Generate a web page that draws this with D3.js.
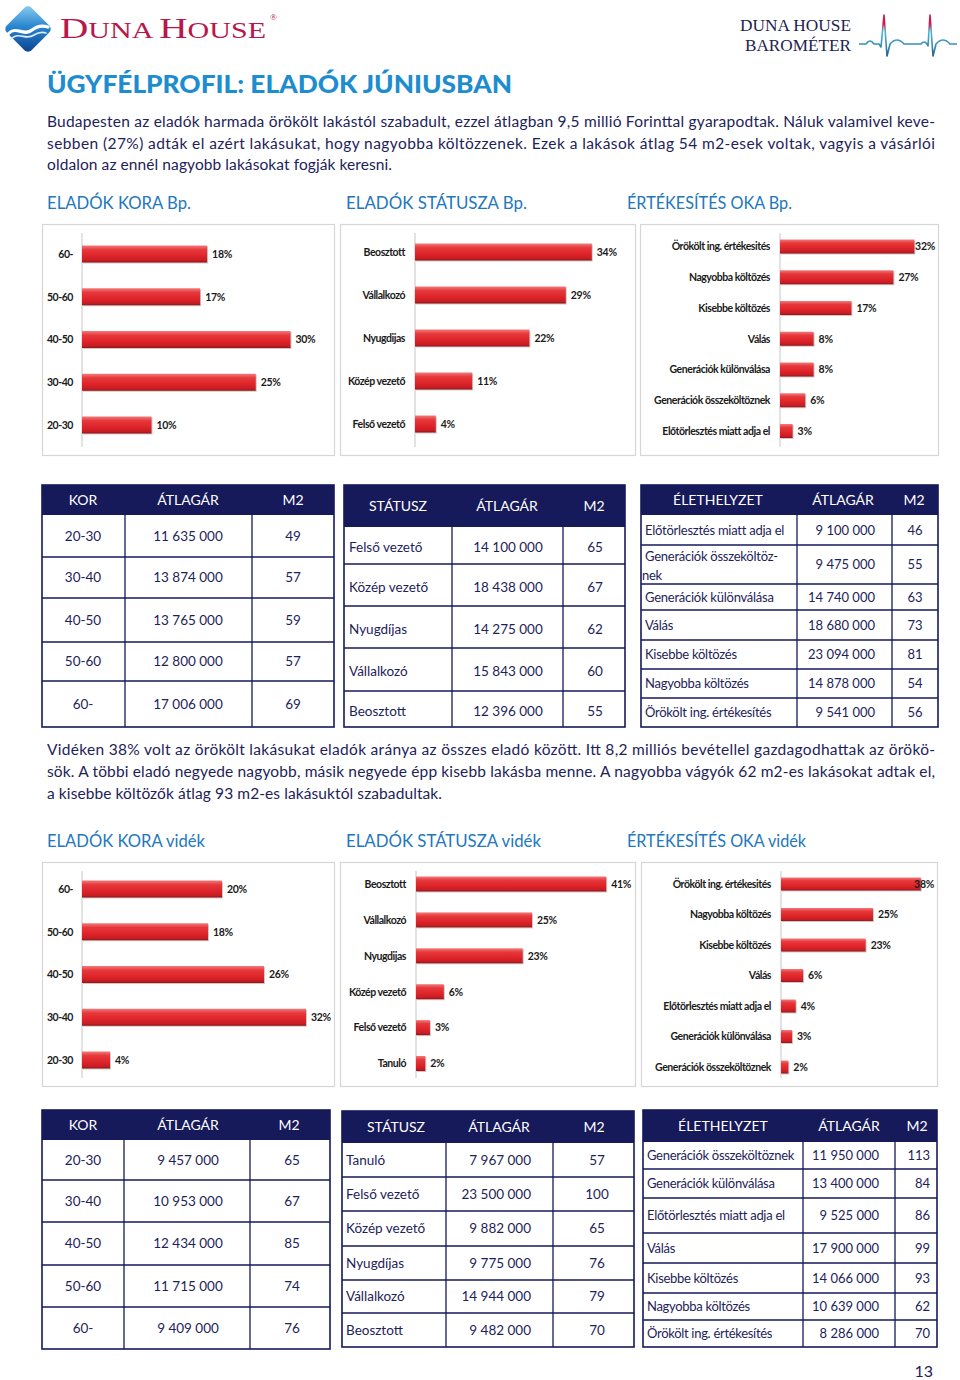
<!DOCTYPE html>
<html><head><meta charset="utf-8">
<script src="https://cdn.jsdelivr.net/npm/d3@7"></script>
<style>body{margin:0;background:#fff}svg{display:block}</style>
</head><body>
<svg id="page" width="960" height="1380"></svg>
<script>
// ---------- DATA ----------
const ageCats = ["60-", "50-60", "40-50", "30-40", "20-30"];
const ageBp = [18, 17, 30, 25, 10];
const ageVid = [20, 18, 26, 32, 4];

const statusCatsBp = ["Beosztott", "Vállalkozó", "Nyugdijas", "Közép vezető", "Felső vezető"];
const statusBp = [34, 29, 22, 11, 4];
const statusCatsVid = ["Beosztott", "Vállalkozó", "Nyugdijas", "Közép vezető", "Felső vezető", "Tanuló"];
const statusVid = [41, 25, 23, 6, 3, 2];

const reasonCatsBp = ["Örökölt ing. értékesités", "Nagyobba költözés", "Kisebbe költözés", "Válás", "Generációk különválása", "Generációk összeköltöznek", "Előtörlesztés miatt adja el"];
const reasonBp = [32, 27, 17, 8, 8, 6, 3];
const reasonCatsVid = ["Örökölt ing. értékesités", "Nagyobba költözés", "Kisebbe költözés", "Válás", "Előtörlesztés miatt adja el", "Generációk különválása", "Generációk összeköltöznek"];
const reasonVid = [38, 25, 23, 6, 4, 3, 2];

const tableHeadAge = ["KOR", "ÁTLAGÁR", "M2"];
const tableHeadStatus = ["STÁTUSZ", "ÁTLAGÁR", "M2"];
const tableHeadLife = ["ÉLETHELYZET", "ÁTLAGÁR", "M2"];

const ageTableCats = ["20-30", "30-40", "40-50", "50-60", "60-"];
const agePriceBp = [11635000, 13874000, 13765000, 12800000, 17006000];
const ageM2Bp = [49, 57, 59, 57, 69];
const agePriceVid = [9457000, 10953000, 12434000, 11715000, 9409000];
const ageM2Vid = [65, 67, 85, 74, 76];

const statusTableCatsBp = ["Felső vezető", "Közép vezető", "Nyugdíjas", "Vállalkozó", "Beosztott"];
const statusPriceBp = [14100000, 18438000, 14275000, 15843000, 12396000];
const statusM2Bp = [65, 67, 62, 60, 55];
const statusTableCatsVid = ["Tanuló", "Felső vezető", "Közép vezető", "Nyugdíjas", "Vállalkozó", "Beosztott"];
const statusPriceVid = [7967000, 23500000, 9882000, 9775000, 14944000, 9482000];
const statusM2Vid = [57, 100, 65, 76, 79, 70];

const lifeTableCatsBp = ["Előtörlesztés miatt adja el", "Generációk összeköltöz-|nek", "Generációk különválása", "Válás", "Kisebbe költözés", "Nagyobba költözés", "Örökölt ing. értékesítés"];
const lifePriceBp = [9100000, 9475000, 14740000, 18680000, 23094000, 14878000, 9541000];
const lifeM2Bp = [46, 55, 63, 73, 81, 54, 56];
const lifeTableCatsVid = ["Generációk összeköltöznek", "Generációk különválása", "Előtörlesztés miatt adja el", "Válás", "Kisebbe költözés", "Nagyobba költözés", "Örökölt ing. értékesítés"];
const lifePriceVid = [11950000, 13400000, 9525000, 17900000, 14066000, 10639000, 8286000];
const lifeM2Vid = [113, 84, 86, 99, 93, 62, 70];

const para1 = [
  "Budapesten az eladók harmada örökölt lakástól szabadult, ezzel átlagban 9,5 millió Forinttal gyarapodtak. Náluk valamivel keve-",
  "sebben (27%) adták el azért lakásukat, hogy nagyobba költözzenek. Ezek a lakások átlag 54 m2-esek voltak, vagyis a vásárlói",
  "oldalon az ennél nagyobb lakásokat fogják keresni."
];
const para2 = [
  "Vidéken 38% volt az örökölt lakásukat eladók aránya az összes eladó között. Itt 8,2 milliós bevétellel gazdagodhattak az örökö-",
  "sök. A többi eladó negyede nagyobb, másik negyede épp kisebb lakásba menne. A nagyobba vágyók 62 m2-es lakásokat adtak el,",
  "a kisebbe költözők átlag 93 m2-es lakásuktól szabadultak."
];
const headingsBp = ["ELADÓK KORA Bp.", "ELADÓK STÁTUSZA Bp.", "ÉRTÉKESÍTÉS OKA Bp."];
const headingsVid = ["ELADÓK KORA vidék", "ELADÓK STÁTUSZA vidék", "ÉRTÉKESÍTÉS OKA vidék"];

// ---------- STYLE ----------
const NAVY = "#1d2358", HEADNAVY = "#16195a", TITLE = "#1d8dcf", HBLUE = "#2377bd";
const BODY = "Lato, 'Open Sans', sans-serif";
const fmt = n => d3.format(",")(n).replace(/,/g, " ");

const svg = d3.select("#page");
const defs = svg.append("defs");

const bg = defs.append("linearGradient").attr("id", "barGrad").attr("x1", 0).attr("y1", 0).attr("x2", 0).attr("y2", 1);
[["0%", "#f37a7a"], ["25%", "#e6383b"], ["60%", "#df252a"], ["88%", "#c71d22"], ["100%", "#951317"]]
  .forEach(([o, c]) => bg.append("stop").attr("offset", o).attr("stop-color", c));

const lg = defs.append("linearGradient").attr("id", "logoGrad").attr("x1", 0).attr("y1", 0).attr("x2", 1).attr("y2", 1);
[["0%", "#8fd0f2"], ["45%", "#2a86cf"], ["100%", "#0a3f8f"]]
  .forEach(([o, c]) => lg.append("stop").attr("offset", o).attr("stop-color", c));

const eg = defs.append("linearGradient").attr("id", "ecgGrad").attr("gradientUnits", "userSpaceOnUse")
  .attr("x1", 0).attr("y1", 14).attr("x2", 0).attr("y2", 57);
[["0%", "#d01850"], ["22%", "#d01850"], ["42%", "#49b9d8"], ["100%", "#23608f"]]
  .forEach(([o, c]) => eg.append("stop").attr("offset", o).attr("stop-color", c));

// ---------- HEADER ----------
const logo = svg.append("g").attr("transform", "translate(28,29)");
logo.append("rect").attr("x", -17.5).attr("y", -17.5).attr("width", 35).attr("height", 35).attr("rx", 5)
  .attr("transform", "rotate(45)").attr("fill", "url(#logoGrad)");
logo.append("path").attr("d", "M-20,5 C-12,-4 -4,8 4,1 C9,-3 14,-4 20,-2")
  .attr("fill", "none").attr("stroke", "#fff").attr("stroke-width", 3.2).attr("stroke-linecap", "round");
logo.append("path").attr("d", "M-17,10 C-9,2 -2,12 6,6 C11,3 15,3 18,4")
  .attr("fill", "none").attr("stroke", "#d8eefa").attr("stroke-width", 1.6).attr("stroke-linecap", "round");

const brand = svg.append("text").attr("x", 60).attr("y", 38).attr("fill", "#b8174c")
  .attr("font-family", "'Liberation Serif', 'DejaVu Serif', serif")
  .attr("textLength", 206).attr("lengthAdjust", "spacingAndGlyphs");
brand.append("tspan").attr("font-size", 30).text("D");
brand.append("tspan").attr("font-size", 23).text("UNA ");
brand.append("tspan").attr("font-size", 30).text("H");
brand.append("tspan").attr("font-size", 23).text("OUSE");
svg.append("text").attr("x", 270).attr("y", 20).attr("font-size", 9).attr("fill", "#b8174c")
  .attr("font-family", "'Liberation Serif', serif").text("®");

svg.append("text").attr("x", 740).attr("y", 31).attr("font-size", 16.5).attr("fill", "#1d2350")
  .attr("font-family", "'Liberation Serif', serif").attr("textLength", 111).attr("lengthAdjust", "spacingAndGlyphs").text("DUNA HOUSE");
svg.append("text").attr("x", 745).attr("y", 51).attr("font-size", 16.5).attr("fill", "#1d2350")
  .attr("font-family", "'Liberation Serif', serif").attr("textLength", 106).attr("lengthAdjust", "spacingAndGlyphs").text("BAROMÉTER");
svg.append("path")
  .attr("d", "M859,44 L866,44 Q870,38 874,44 L879,44 L881,47 L884,15 L887,56 L890,44 Q897,36 904,44 L921,44 Q924,40 927,44 L928,46 L930,15 L933,56 L936,44 Q943,36 950,44 L957,44")
  .attr("fill", "none").attr("stroke", "url(#ecgGrad)").attr("stroke-width", 1.6).attr("stroke-linejoin", "round");

svg.append("text").attr("x", 47).attr("y", 93).attr("font-family", BODY).attr("font-weight", 900)
  .attr("font-size", 24).attr("fill", TITLE).attr("textLength", 465).attr("lengthAdjust", "spacingAndGlyphs")
  .text("ÜGYFÉLPROFIL:  ELADÓK JÚNIUSBAN");

// ---------- PARAGRAPHS ----------
function paragraph(lines, baselines, lens) {
  lines.forEach((t, i) => {
    svg.append("text").attr("x", 47).attr("y", baselines[i]).attr("font-family", BODY)
      .attr("font-size", 15.5).attr("fill", NAVY).attr("textLength", lens[i]).attr("lengthAdjust", "spacing").text(t);
  });
}
paragraph(para1, [127, 148.5, 170], [888, 888, 345]);
paragraph(para2, [755, 776.5, 798.5], [888, 888, 395]);

function headings(list, y, lens) {
  const xs = [47, 346, 627];
  list.forEach((t, i) => svg.append("text").attr("x", xs[i]).attr("y", y).attr("font-family", BODY)
    .attr("font-size", 16.5).attr("fill", HBLUE).attr("textLength", lens[i]).attr("lengthAdjust", "spacingAndGlyphs").text(t));
}
headings(headingsBp, 209, [144, 181, 165]);
headings(headingsVid, 847, [158, 195, 179]);

// ---------- BAR CHARTS ----------
function barChart(o, cats, vals) {
  const g = svg.append("g");
  const [px, py, pw, ph] = o.panel;
  g.append("rect").attr("x", px + 0.5).attr("y", py + 0.5).attr("width", pw).attr("height", ph)
    .attr("fill", "#fff").attr("stroke", "#d6d6d6").attr("stroke-width", 1.2);
  const n = cats.length;
  const p = 1 - o.bh / o.step;
  const y = d3.scaleBand().domain(cats)
    .range([o.c0 - o.step / 2, o.c0 + o.step * (n - 0.5)])
    .paddingInner(p).paddingOuter(p / 2);
  const x = d3.scaleLinear().domain([0, 10]).range([o.x0, o.x0 + 10 * o.k]);
  g.append("line").attr("x1", o.x0).attr("x2", o.x0).attr("y1", py + 9).attr("y2", py + ph - 8)
    .attr("stroke", "#cfcfcf").attr("stroke-width", 1.2);
  cats.forEach((c, i) => {
    const yy = y(c), bw = y.bandwidth(), x1 = x(vals[i]);
    g.append("rect").attr("x", o.x0 + 1).attr("y", yy + 1).attr("width", x1 - o.x0).attr("height", bw)
      .attr("fill", "#8a8a8a").attr("opacity", 0.45);
    g.append("rect").attr("x", o.x0).attr("y", yy).attr("width", x1 - o.x0).attr("height", bw)
      .attr("fill", "url(#barGrad)");
    g.append("text").attr("x", o.labelEnd).attr("y", yy + bw / 2 + 3.8).attr("text-anchor", "end")
      .attr("font-family", BODY).attr("font-weight", 700).attr("font-size", 10.5).attr("letter-spacing", -0.45)
      .attr("fill", "#1a1a1a").text(c);
    const vt = g.append("text").attr("y", yy + bw / 2 + 3.8)
      .attr("font-family", BODY).attr("font-weight", 700).attr("font-size", 10.5).attr("letter-spacing", -0.3)
      .attr("fill", "#1a1a1a").text(vals[i] + "%");
    const w = vt.node().getComputedTextLength();
    vt.attr("x", Math.min(x1 + 5, px + pw - 3 - w));
  });
}
barChart({panel: [42, 224, 292, 231], x0: 82, k: 6.95, c0: 254, step: 42.75, bh: 17, labelEnd: 73}, ageCats, ageBp);
barChart({panel: [340, 224, 295, 231], x0: 415, k: 5.2, c0: 252, step: 43, bh: 17, labelEnd: 405}, statusCatsBp, statusBp);
barChart({panel: [640, 224, 298, 231], x0: 780, k: 4.2, c0: 246.5, step: 30.75, bh: 14, labelEnd: 770}, reasonCatsBp, reasonBp);
barChart({panel: [42, 862, 292, 224], x0: 82, k: 7.0, c0: 889, step: 42.75, bh: 17, labelEnd: 73}, ageCats, ageVid);
barChart({panel: [340, 862, 295, 224], x0: 416, k: 4.64, c0: 884, step: 35.9, bh: 15, labelEnd: 406}, statusCatsVid, statusVid);
barChart({panel: [641, 862, 296, 224], x0: 781, k: 3.68, c0: 884, step: 30.5, bh: 13, labelEnd: 771}, reasonCatsVid, reasonVid);

// ---------- TABLES ----------
function table(o, head, c1, c2, c3) {
  const g = svg.append("g");
  const [x0, xa, xb, x1] = o.cols;
  const fs = o.fs || 13.5, ls = o.ls || 0;
  const rows = o.rows, top = rows[0], hb = rows[1], bot = rows[rows.length - 1];
  g.append("rect").attr("x", x0).attr("y", top).attr("width", x1 - x0).attr("height", hb - top).attr("fill", HEADNAVY);
  g.append("rect").attr("x", x0).attr("y", top).attr("width", x1 - x0).attr("height", bot - top)
    .attr("fill", "none").attr("stroke", HEADNAVY).attr("stroke-width", 1.6);
  rows.slice(2, -1).forEach(r => g.append("line").attr("x1", x0).attr("x2", x1).attr("y1", r).attr("y2", r)
    .attr("stroke", HEADNAVY).attr("stroke-width", 1.3));
  [xa, xb].forEach(c => g.append("line").attr("x1", c).attr("x2", c).attr("y1", hb).attr("y2", bot)
    .attr("stroke", HEADNAVY).attr("stroke-width", 1.3));
  head.forEach((h, i) => g.append("text").attr("x", o.headX[i]).attr("y", (top + hb) / 2 + 5 + (o.headDy || 0))
    .attr("text-anchor", "middle").attr("font-family", BODY).attr("font-size", 14).attr("fill", "#fff").text(h));
  const cols = [c1, c2.map(fmt), c3];
  cols.forEach((col, ci) => {
    const a = o.align[ci];
    col.forEach((v, ri) => {
      const cy = (rows[ri + 1] + rows[ri + 2]) / 2 + 4.8 + (o.dy || 0);
      const parts = String(v).split("|");
      const mk = (x, yv, t, anchor) => g.append("text").attr("x", x).attr("y", yv).attr("text-anchor", anchor || "start")
        .attr("font-family", BODY).attr("font-size", fs).attr("letter-spacing", ci === 0 ? ls : 0).attr("fill", NAVY).text(t);
      if (parts.length > 1) {
        mk(a.x, cy - 8, parts[0]);
        mk(x0 + 1, cy + 11, parts[1]);
        return;
      }
      mk(a.x, cy, v, a.anchor);
    });
  });
}
table({cols: [42, 125, 252, 334], rows: [485, 515, 557, 598, 642, 681, 727], headX: [83, 188, 293],
  align: [{x: 83, anchor: "middle"}, {x: 188, anchor: "middle"}, {x: 293, anchor: "middle"}]},
  tableHeadAge, ageTableCats, agePriceBp, ageM2Bp);
table({cols: [344, 452, 563, 625], rows: [485, 527, 564, 606, 648, 691, 727], headX: [398, 507, 594], dy: 2,
  align: [{x: 349, anchor: "start"}, {x: 508, anchor: "middle"}, {x: 595, anchor: "middle"}]},
  tableHeadStatus, statusTableCatsBp, statusPriceBp, statusM2Bp);
table({cols: [641, 797, 892, 938], rows: [485, 515, 545, 584, 610, 640, 669, 698, 727], headX: [718, 843, 914],
  fs: 13, ls: -0.25,
  align: [{x: 645, anchor: "start"}, {x: 875, anchor: "end"}, {x: 915, anchor: "middle"}]},
  tableHeadLife, lifeTableCatsBp, lifePriceBp, lifeM2Bp);
table({cols: [42, 124, 250, 330], rows: [1110, 1140, 1180, 1222, 1265, 1307, 1349], headX: [83, 188, 289],
  align: [{x: 83, anchor: "middle"}, {x: 188, anchor: "middle"}, {x: 292, anchor: "middle"}]},
  tableHeadAge, ageTableCats, agePriceVid, ageM2Vid);
table({cols: [342, 446, 553, 634], rows: [1111, 1143, 1177, 1211, 1246, 1280, 1313, 1347], headX: [396, 499, 594],
  align: [{x: 346, anchor: "start"}, {x: 531, anchor: "end"}, {x: 597, anchor: "middle"}]},
  tableHeadStatus, statusTableCatsVid, statusPriceVid, statusM2Vid);
table({cols: [643, 803, 895, 937], rows: [1110, 1142, 1169, 1198, 1233, 1263, 1293, 1320, 1347], headX: [723, 849, 917],
  fs: 13, ls: -0.3,
  align: [{x: 647, anchor: "start"}, {x: 879, anchor: "end"}, {x: 930, anchor: "end"}]},
  tableHeadLife, lifeTableCatsVid, lifePriceVid, lifeM2Vid);

svg.append("text").attr("x", 933).attr("y", 1377).attr("text-anchor", "end").attr("font-family", BODY)
  .attr("font-size", 16).attr("fill", NAVY).text("13");
</script>
</body></html>
